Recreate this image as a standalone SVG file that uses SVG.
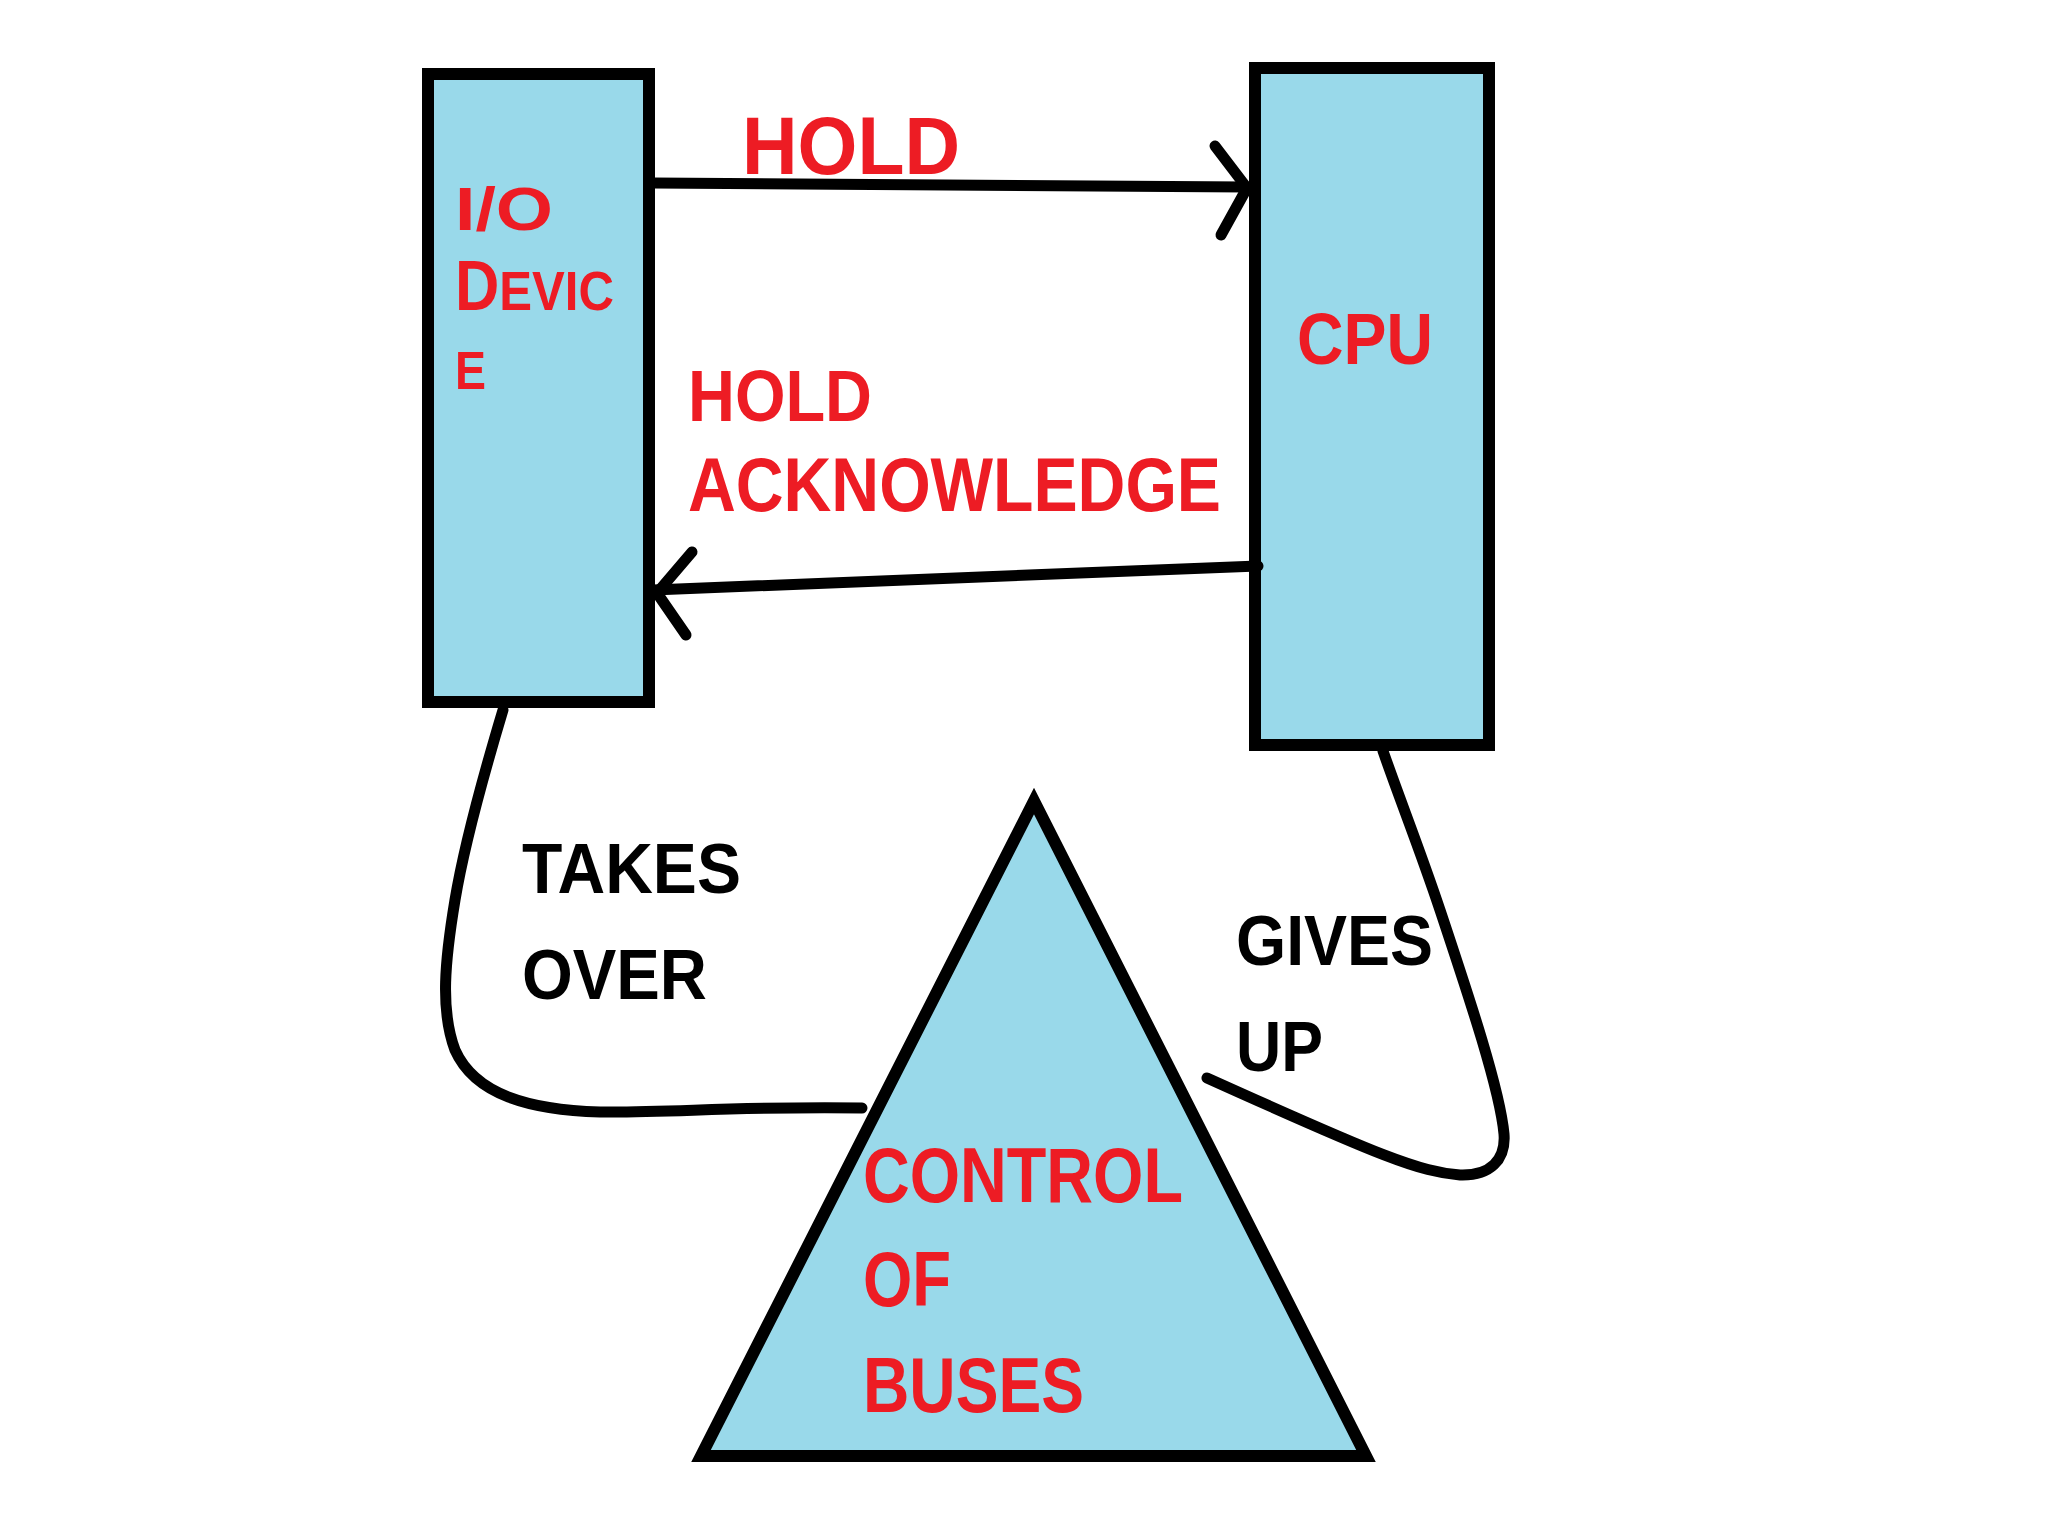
<svg xmlns="http://www.w3.org/2000/svg" width="2048" height="1536" viewBox="0 0 2048 1536">
<style>
.box{fill:#99d9ea;stroke:#000;stroke-width:12}
.ln{fill:none;stroke:#000;stroke-width:11;stroke-linecap:round;stroke-linejoin:round}
.red{fill:#ed1c24;font-family:"Liberation Sans",Arial,sans-serif;font-weight:bold}
.blk{fill:#000;font-family:"Liberation Sans",Arial,sans-serif;font-weight:bold}
</style>
<rect width="2048" height="1536" fill="#fff"/>
<g id="io-device">
<rect class="box" x="428" y="74" width="221" height="628"/>
<text class="red" x="455" y="230" font-size="62" textLength="98" lengthAdjust="spacingAndGlyphs">I/O</text>
<text class="red" x="455" y="310" textLength="159" lengthAdjust="spacingAndGlyphs"><tspan font-size="70">D</tspan><tspan font-size="56">EVIC</tspan></text>
<text class="red" x="455" y="389" font-size="54" textLength="31" lengthAdjust="spacingAndGlyphs">E</text>
</g>
<g id="cpu">
<rect class="box" x="1255" y="68" width="234" height="677"/>
<text class="red" x="1297" y="364" font-size="73" textLength="136" lengthAdjust="spacingAndGlyphs">CPU</text>
</g>
<g id="control-of-buses">
<polygon class="box" points="1034,801 701,1456 1366,1456" stroke-width="10"/>
<text class="red" x="863" y="1202" font-size="77" textLength="320" lengthAdjust="spacingAndGlyphs">CONTROL</text>
<text class="red" x="863" y="1306" font-size="77" textLength="88" lengthAdjust="spacingAndGlyphs">OF</text>
<text class="red" x="863" y="1412" font-size="77" textLength="221" lengthAdjust="spacingAndGlyphs">BUSES</text>
</g>
<g id="connectors">
<path class="ln" d="M653,183 L1247,187"/>
<path class="ln" d="M1215,146 L1247,188 L1221,235"/>
<path class="ln" d="M1258,566 L653,590"/>
<path class="ln" d="M692,552 L657,593 L686,635"/>
<path class="ln" d="M503,710 C485,770 465,840 455,900 C445,960 440,1010 455,1050 C475,1095 530,1110 600,1112 C670,1113 740,1106 862,1108"/>
<path class="ln" d="M1383,751 C1400,800 1420,850 1440,910 C1470,1000 1500,1090 1504,1134 C1506,1160 1490,1176 1460,1175 C1420,1172 1380,1156 1207,1078"/>
<text class="red" x="742" y="174" font-size="82" textLength="218" lengthAdjust="spacingAndGlyphs">HOLD</text>
<text class="red" x="688" y="421" font-size="72" textLength="184" lengthAdjust="spacingAndGlyphs">HOLD</text>
<text class="red" x="688" y="511" font-size="76" textLength="533" lengthAdjust="spacingAndGlyphs">ACKNOWLEDGE</text>
<text class="blk" x="522" y="893" font-size="70" textLength="219" lengthAdjust="spacingAndGlyphs">TAKES</text>
<text class="blk" x="522" y="999" font-size="70" textLength="185" lengthAdjust="spacingAndGlyphs">OVER</text>
<text class="blk" x="1236" y="965" font-size="70" textLength="197" lengthAdjust="spacingAndGlyphs">GIVES</text>
<text class="blk" x="1236" y="1071" font-size="70" textLength="87" lengthAdjust="spacingAndGlyphs">UP</text>
</g>
</svg>
